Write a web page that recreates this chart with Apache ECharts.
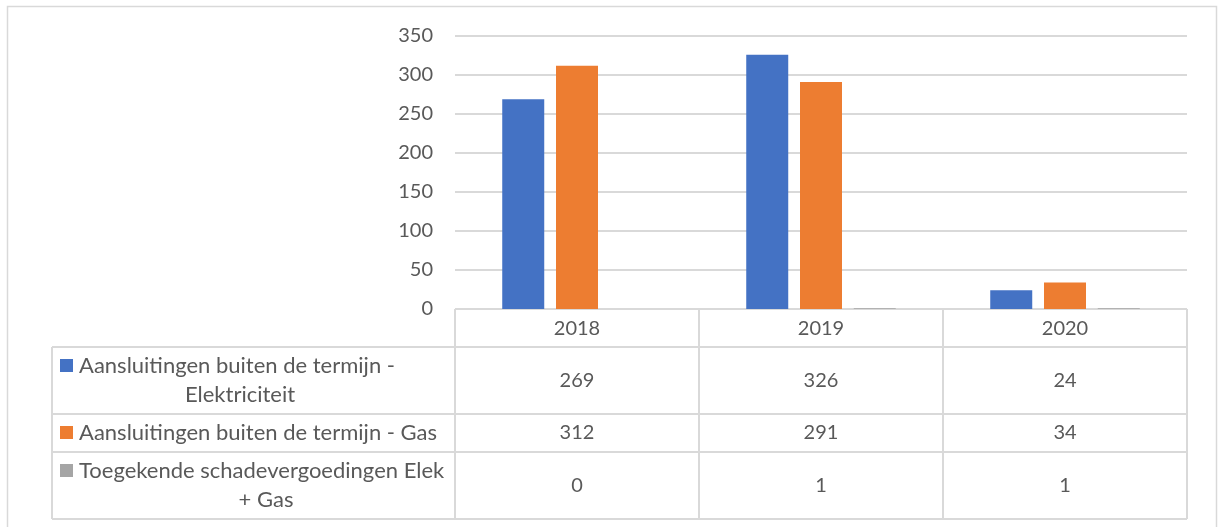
<!DOCTYPE html>
<html>
<head>
<meta charset="utf-8">
<script src="https://cdn.jsdelivr.net/npm/echarts@6/dist/echarts.min.js"></script>
<style>
  html, body { margin: 0; padding: 0; background: #fff; }
  #chart { width: 1219px; height: 527px; }
</style>
</head>
<body>
<div id="chart"></div>
<script>
// Data
const years = ['2018', '2019', '2020'];
const seriesNames = [
  'Aansluitingen buiten de termijn - Elektriciteit',
  'Aansluitingen buiten de termijn - Gas',
  'Toegekende schadevergoedingen Elek + Gas',
];
const elektriciteit = [269, 326, 24];
const gas = [312, 291, 34];
const schade = [0, 1, 1];
const seriesValues = [elektriciteit, gas, schade];
// How the row labels wrap in the data table
const rowLabelLines = [
  ['Aansluitingen buiten de termijn -', 'Elektriciteit'],
  ['Aansluitingen buiten de termijn - Gas'],
  ['Toegekende schadevergoedingen Elek', '+ Gas'],
];
const colors = ['#4472C4', '#ED7D31', '#A5A5A5'];

// Layout
const W = 1219, H = 527;
const plotLeft = 455, plotRight = 1187, plotTop = 36, plotBottom = 309;
const tableLeft = 52;
const rowBounds = [309, 347, 414, 452, 519]; // header + 3 rows
const textColor = '#595959';
const lineColor = '#d9d9d9';
const fontFamily = 'Lato, "Open Sans", sans-serif';
const numSize = 20;
const labelSize = 22;

const colWidth = (plotRight - plotLeft) / years.length;

// Build table graphics
const graphics = [];

// outer chart border
graphics.push({
  type: 'rect',
  shape: { x: 7.5, y: 6.5, width: 1209, height: 540 },
  style: { fill: 'none', stroke: lineColor, lineWidth: 1.5 },
  silent: true,
});

function hLine(x1, x2, y) {
  graphics.push({
    type: 'line',
    shape: { x1, y1: y, x2, y2: y },
    style: { stroke: lineColor, lineWidth: 2 },
    silent: true,
  });
}
function vLine(x, y1, y2) {
  graphics.push({
    type: 'line',
    shape: { x1: x, y1, x2: x, y2 },
    style: { stroke: lineColor, lineWidth: 2 },
    silent: true,
  });
}
function text(str, x, y, size, align) {
  graphics.push({
    type: 'text',
    x, y,
    style: {
      text: str,
      fill: textColor,
      font: size + 'px ' + fontFamily,
      align: align || 'center',
      verticalAlign: 'middle',
    },
    silent: true,
  });
}

hLine(plotLeft, plotRight, rowBounds[0]);
for (let i = 1; i < rowBounds.length; i++) hLine(tableLeft, plotRight, rowBounds[i]);
vLine(tableLeft, rowBounds[1], rowBounds[rowBounds.length - 1]);
for (let c = 0; c <= years.length; c++) {
  vLine(plotLeft + c * colWidth, rowBounds[0], rowBounds[rowBounds.length - 1]);
}

// header
years.forEach((y, c) => {
  text(y, plotLeft + (c + 0.5) * colWidth, (rowBounds[0] + rowBounds[1]) / 2 + 1, numSize);
});

// rows
const lineHeight = 29;
const labelCenter = [240, 250, 266];
seriesNames.forEach((name, r) => {
  const top = rowBounds[r + 1], bottom = rowBounds[r + 2];
  const mid = (top + bottom) / 2;
  const lines = rowLabelLines[r];
  const firstY = mid - (lines.length - 1) * lineHeight / 2;
  lines.forEach((ln, k) => {
    const ly = firstY + k * lineHeight;
    if (k === 0) {
      graphics.push({
        type: 'rect',
        shape: { x: 60, y: ly - 7, width: 13, height: 13 },
        style: { fill: colors[r] },
        silent: true,
      });
      text(ln, 79, ly, labelSize, 'left');
    } else {
      text(ln, labelCenter[r], ly, labelSize);
    }
  });
  seriesValues[r].forEach((v, c) => {
    text(String(v), plotLeft + (c + 0.5) * colWidth, mid, numSize);
  });
});

const chart = echarts.init(document.getElementById('chart'), null, { renderer: 'canvas' });

chart.setOption({
  animation: false,
  backgroundColor: '#fff',
  grid: {
    left: plotLeft,
    right: W - plotRight,
    top: plotTop,
    bottom: H - plotBottom,
  },
  xAxis: {
    type: 'category',
    data: years,
    axisLine: { show: false },
    axisTick: { show: false },
    axisLabel: { show: false },
  },
  yAxis: {
    type: 'value',
    min: 0,
    max: 350,
    interval: 50,
    axisLine: { show: false },
    axisTick: { show: false },
    axisLabel: {
      color: textColor,
      fontFamily,
      fontSize: numSize,
      margin: 22,
    },
    splitLine: { lineStyle: { color: lineColor, width: 2 } },
  },
  series: seriesNames.map((name, i) => ({
    name,
    type: 'bar',
    data: seriesValues[i],
    barWidth: 42,
    barGap: '28%',
    itemStyle: { color: colors[i] },
  })),
  graphic: graphics,
});
</script>
</body>
</html>
